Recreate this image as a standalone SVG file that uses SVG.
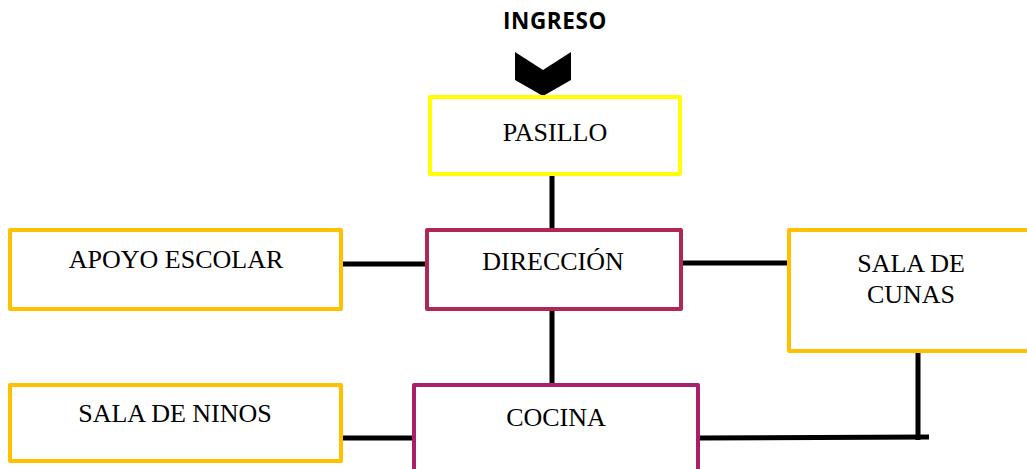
<svg xmlns="http://www.w3.org/2000/svg" width="1027" height="469" viewBox="0 0 1027 469">
<style>
.box{fill:#ffffff;stroke-width:4;stroke-linejoin:round}
.yel{stroke:#FFFF00}
.org{stroke:#FFC000}
.dir{stroke:#AE2852}
.coc{stroke:#A8206B}
.lbl{font-family:"Liberation Serif","Times New Roman",serif;font-size:26px;fill:#000;text-anchor:middle}
.conn{stroke:#000;stroke-width:5;fill:none}
</style>
<rect width="1027" height="469" fill="#ffffff"/>
<g id="connectors">
<line class="conn" x1="552" y1="176" x2="552" y2="228"/>
<line class="conn" x1="552" y1="311" x2="552" y2="383"/>
<line class="conn" x1="343" y1="264" x2="425" y2="264"/>
<line class="conn" x1="683" y1="263" x2="788" y2="263"/>
<line class="conn" x1="343" y1="438" x2="413" y2="438"/>
<polyline class="conn" points="700,438 929,437"/>
<line class="conn" x1="918" y1="353" x2="918" y2="440"/>
</g>
<g id="ingreso">
<text x="555" y="29" font-family="'Open Sans','Liberation Sans',sans-serif" font-weight="bold" font-size="22.5" letter-spacing="0.6" text-anchor="middle" fill="#000">INGRESO</text>
<polygon points="515,52 543,70 571,52 571,80 543,96 515,80" fill="#000"/>
</g>
<g id="pasillo">
<rect class="box yel" x="430" y="97" width="250" height="77"/>
<text class="lbl" x="555" y="141">PASILLO</text>
</g>
<g id="apoyo">
<rect class="box org" x="10" y="230" width="331" height="79"/>
<text class="lbl" x="176" y="268">APOYO ESCOLAR</text>
</g>
<g id="direccion">
<rect class="box dir" x="427" y="230" width="254" height="79"/>
<text class="lbl" x="553" y="270" font-size="29">DIRECCIÓN</text>
</g>
<g id="cunas">
<rect class="box org" x="789" y="230" width="250" height="121"/>
<text class="lbl" x="911" y="272">SALA DE</text>
<text class="lbl" x="911" y="303">CUNAS</text>
</g>
<g id="ninos">
<rect class="box org" x="10" y="385" width="331" height="76"/>
<text class="lbl" x="175" y="422">SALA DE NINOS</text>
</g>
<g id="cocina">
<rect class="box coc" x="414" y="385" width="284" height="100"/>
<text class="lbl" x="556" y="426">COCINA</text>
</g>
</svg>
